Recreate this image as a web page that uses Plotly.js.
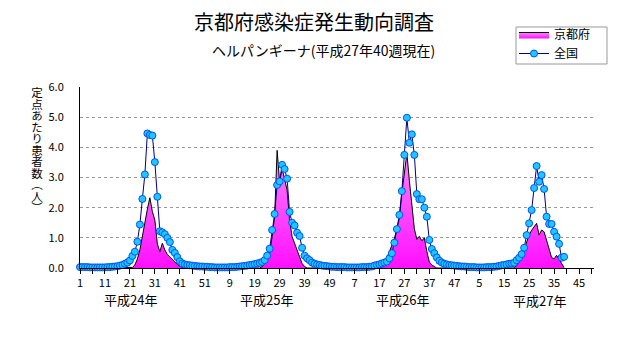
<!DOCTYPE html>
<html><head><meta charset="utf-8">
<script src="https://cdn.plot.ly/plotly-3.0.1.min.js"></script>
<style>html,body{margin:0;padding:0;background:#fff}#chart{width:631px;height:347px}</style>
</head><body><div id="chart"></div>
<script>
// ---- data ----
const yearLabels = ['平成24年', '平成25年', '平成26年', '平成27年'];
const xTickText = ['1','11','21','31','41','51','9','19','29','39','49','7','17','27','37','47','5','15','25','35','45'];
const yAxisTitle = '定点あたり患者数（人）';

const zenkoku2012 = [0.03,0.03,0.03,0.03,0.02,0.02,0.02,0.02,0.02,0.02,0.02,0.03,0.03,0.04,
  0.05,0.06,0.08,0.10,0.14,0.18,0.25,0.40,0.54,0.87,1.44,2.29,3.10,4.46,4.41,4.39,3.51,2.36,
  1.22,1.18,1.12,1.00,0.86,0.60,0.50,0.36,0.22,0.15,0.12,0.10,0.09,0.08,0.07,0.06,0.05,0.05,0.04,0.04];
const zenkoku2013 = [0.03,0.03,0.02,0.02,0.02,0.02,0.02,0.02,0.03,0.03,0.03,0.04,
  0.05,0.06,0.07,0.08,0.10,0.11,0.13,0.15,0.17,0.20,0.26,0.41,0.64,1.26,1.79,2.75,2.87,3.42,
  3.28,2.96,1.86,1.50,1.41,1.17,1.06,0.67,0.41,0.32,0.26,0.18,0.14,0.12,0.10,0.08,0.07,0.06,0.05,0.04,0.04,0.03];
const zenkoku2014 = [0.03,0.03,0.03,0.02,0.02,0.02,0.02,0.02,0.02,0.03,0.03,0.03,0.04,
  0.05,0.08,0.10,0.12,0.15,0.18,0.21,0.32,0.49,0.84,1.29,1.76,2.55,3.75,4.98,4.15,4.43,3.75,
  2.45,2.28,2.28,2.00,1.70,0.93,0.63,0.49,0.35,0.24,0.18,0.14,0.12,0.10,0.09,0.08,0.07,0.06,0.05,0.05,0.04];
const zenkoku2015 = [0.03,0.03,0.03,0.02,0.02,0.02,0.02,0.03,0.03,0.03,
  0.04,0.05,0.07,0.09,0.10,0.12,0.14,0.15,0.17,0.26,0.34,0.46,0.67,1.09,1.48,1.92,2.65,3.38,
  2.86,3.08,2.62,1.70,1.46,1.46,1.20,1.04,0.80,0.34,0.37];

const kyoto2012 = [0,0,0,0,0,0,0,0,0,0,0,0,0,0,0,0,0,0,0,0,0,
  0.02,0.10,0.30,0.60,1.10,1.60,1.95,2.33,1.87,1.59,0.80,0.54,0.82,0.60,0.45,0.37,0.28,0.20,0.12,0.06,0.02,
  0,0,0,0,0,0,0,0,0,0];
const kyoto2013 = [0,0,0,0,0,0,0,0,0,0,0,0,0,0,0,0,0,0,0,0,0,
  0.05,0.12,0.25,0.49,1.04,1.70,3.90,2.85,3.30,2.90,2.58,1.59,1.04,0.82,0.60,0.43,0.15,0.05,
  0,0,0,0,0,0,0,0,0,0,0,0,0];
const kyoto2014 = [0,0,0,0,0,0,0,0,0,0,0,0,0,0,0,0,0,
  0.08,0.20,0.35,0.54,0.75,0.98,1.30,1.65,2.48,3.15,3.80,2.90,2.05,1.30,0.95,1.05,0.90,1.00,0.55,0.20,0.10,0.05,
  0,0,0,0,0,0,0,0,0,0,0,0,0];
const kyoto2015 = [0,0,0,0,0,0,0,0,0,0,0,0,0,0,0,0,0,0,0,
  0.08,0.20,0.37,0.60,0.85,1.10,1.25,1.35,1.48,1.09,1.26,1.20,0.93,0.60,0.35,0.30,0.42,0.29,0.15,0.02];

// ---- build series on a continuous week index ----
const weeksPerYear = 52;
function seq(arrs) {
  const x = [], y = [];
  arrs.forEach((a, k) => a.forEach((v, j) => { x.push(k * weeksPerYear + j + 1); y.push(v); }));
  return {x, y};
}
const zen = seq([zenkoku2012, zenkoku2013, zenkoku2014, zenkoku2015]);
const kyo = seq([kyoto2012, kyoto2013, kyoto2014, kyoto2015]);

const tickvals = [], ticktext = [];
for (let i = 0; i < 42; i++) {
  tickvals.push(1 + 5 * i);
  ticktext.push(i % 2 === 0 ? xTickText[i / 2] : '');
}

// ---- layout helpers (pixel -> paper) ----
const L = 80, R = 594, T = 87, B = 268;
const px = x => (x - L) / (R - L);
const py = y => (B - y) / (B - T);

const font = '"Noto Sans CJK JP", "Noto Sans", sans-serif';
const ann = [];
ann.push({text: '京都府感染症発生動向調査', x: px(313.5), y: py(22), size: 20});
ann.push({text: 'ヘルパンギーナ(平成27年40週現在)', x: px(323), y: py(50), size: 14});
const yearPx = [130.6, 266, 402.6, 539];
yearLabels.forEach((t, k) => ann.push({text: t, x: px(yearPx[k]), y: py(k === 3 ? 300 : 299), size: 13}));

const annotations = ann.map(a => ({
  text: a.text, x: a.x, y: a.y, xref: 'paper', yref: 'paper',
  xanchor: 'center', yanchor: 'middle', showarrow: false,
  font: {family: font, size: a.size, color: '#000'}
}));

const traces = [
  {
    x: kyo.x, y: kyo.y, type: 'scatter', mode: 'lines', name: '京都府',
    line: {color: '#000', width: 1},
    fill: 'tozeroy',
    fillgradient: {type: 'vertical', start: 0, stop: 4, colorscale: [[0, '#ff10ff'], [1, '#ff88ff']]},
    hoverinfo: 'skip'
  },
  {
    x: zen.x, y: zen.y, type: 'scatter', mode: 'lines+markers', name: '全国',
    line: {color: '#000080', width: 1},
    marker: {size: 7, color: '#1ec8ff', line: {color: '#0050ff', width: 1}},
    cliponaxis: false, hoverinfo: 'skip'
  }
];

const layout = {
  width: 631, height: 347,
  margin: {l: L, r: 631 - R, t: T, b: 347 - B, pad: 0},
  paper_bgcolor: '#fff', plot_bgcolor: '#fff',
  font: {family: font, size: 11, color: '#000'},
  showlegend: true,
  legend: {
    x: px(514), y: py(20), xanchor: 'left', yanchor: 'top',
    borderwidth: 0, bgcolor: 'rgba(0,0,0,0)',
    font: {family: font, size: 12, color: '#000'}, itemwidth: 30, tracegroupgap: 0
  },
  shapes: [{
    type: 'rect', xref: 'paper', yref: 'paper',
    x0: px(516), x1: px(607), y0: py(64), y1: py(27),
    line: {color: '#999', width: 1}, fillcolor: 'rgba(0,0,0,0)', layer: 'below'
  }],
  xaxis: {
    range: [1, 207], tickmode: 'array', tickvals: tickvals, ticktext: ticktext,
    ticks: 'outside', ticklen: 5, tickcolor: '#000', tickwidth: 1,
    showline: true, linecolor: '#000', linewidth: 1,
    showgrid: false, zeroline: false, tickfont: {family: font, size: 11, color: '#000'}
  },
  yaxis: {
    range: [0, 6], tickmode: 'linear', tick0: 0, dtick: 1, tickformat: '.1f',
    showline: true, linecolor: '#000', linewidth: 1,
    showgrid: true, gridcolor: '#999', griddash: 'dot', gridwidth: 1,
    zeroline: false, ticks: '', ticklabelstandoff: 13,
    tickfont: {family: font, size: 11, color: '#000'}
  },
  annotations: annotations
};

Plotly.newPlot('chart', traces, layout, {staticPlot: true, displayModeBar: false}).then(() => {
  // vertical (upright, stacked) y-axis title, as a single text element
  const layer = document.querySelector('#chart .infolayer');
  const t = document.createElementNS('http://www.w3.org/2000/svg', 'text');
  t.textContent = yAxisTitle;
  t.setAttribute('class', 'ytitle-vertical');
  t.setAttribute('x', '37');
  t.setAttribute('y', '87');
  t.setAttribute('style', 'writing-mode: vertical-rl; text-orientation: upright; ' +
    'font-family: "Noto Sans CJK JP", sans-serif; font-size: 11.5px; fill: #000; letter-spacing: 0px;');
  layer.appendChild(t);
});
</script>
</body></html>
